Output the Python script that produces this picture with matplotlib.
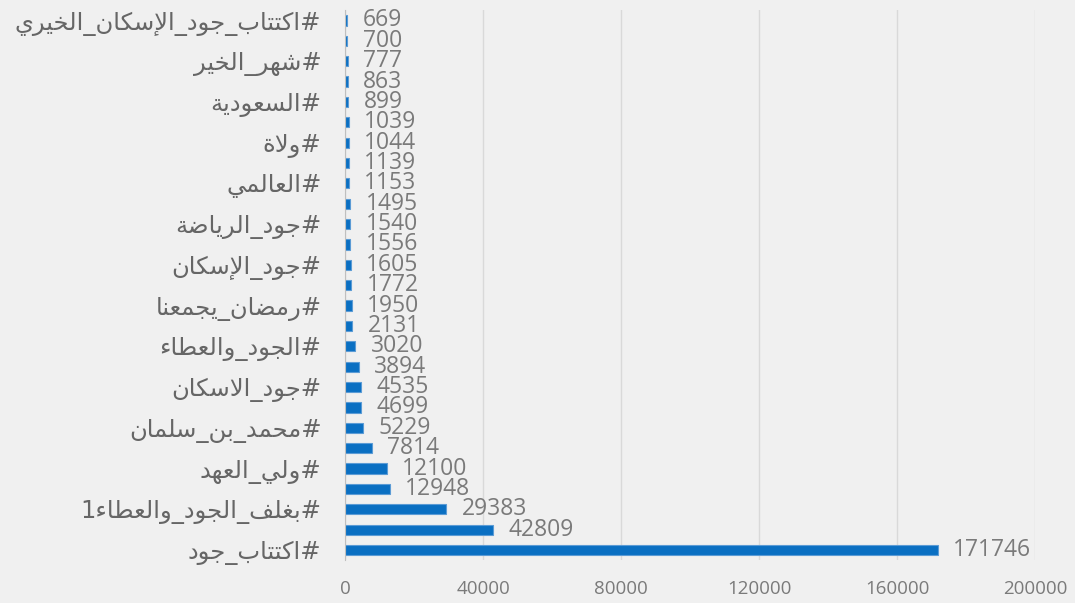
import unicodedata
import numpy as np
import matplotlib
matplotlib.use("Agg")
import matplotlib.pyplot as plt

# bottom -> top, as drawn; only every other category name is shown in the chart
tags = ["#اكتتاب_جود", "", "#بغلف_الجود_والعطاء1", "", "#ولي_العهد", "",
        "#محمد_بن_سلمان", "", "#جود_الاسكان", "", "#الجود_والعطاء", "",
        "#رمضان_يجمعنا", "", "#جود_الإسكان", "", "#جود_الرياضة", "",
        "#العالمي", "", "#ولاة", "", "#السعودية", "", "#شهر_الخير", "",
        "#اكتتاب_جود_الإسكان_الخيري"]
counts = [171746, 42809, 29383, 12948, 12100, 7814, 5229, 4699, 4535, 3894,
          3020, 2131, 1950, 1772, 1605, 1556, 1540, 1495, 1153, 1139, 1044,
          1039, 899, 863, 777, 700, 669]
xticks = [0, 40000, 80000, 120000, 160000, 200000]


# matplotlib has no arabic shaping, so pick presentation forms by hand
FORMS = {}
for cp in range(0xFE70, 0xFEFF):
    dec = unicodedata.decomposition(chr(cp))
    if not dec.startswith("<"):
        continue
    tag, *codes = dec.split()
    key = "".join(chr(int(c, 16)) for c in codes)
    FORMS.setdefault(key, {})[tag[1:-1]] = chr(cp)


def shape(text):
    units = []
    i = 0
    while i < len(text):
        if text[i] == "ل" and text[i:i + 2] in FORMS:
            units.append(text[i:i + 2])
            i += 2
        else:
            units.append(text[i])
            i += 1
    out = []
    for k, u in enumerate(units):
        f = FORMS.get(u)
        if not f or "isolated" not in f:
            out.append(u)
            continue
        prev = FORMS.get(units[k - 1], {}) if k > 0 else {}
        nxt = FORMS.get(units[k + 1], {}) if k + 1 < len(units) else {}
        jp = "initial" in prev and "final" in f
        jn = "initial" in f and "final" in nxt
        if jp and jn:
            out.append(f["medial"])
        elif jp:
            out.append(f["final"])
        elif jn:
            out.append(f["initial"])
        else:
            out.append(f["isolated"])
    return "".join(out)[::-1]


bg = "#f0f0f0"
fig = plt.figure(figsize=(10.75, 6.03), dpi=100, facecolor=bg)
ax = fig.add_axes([0.321, 0.071, 0.642, 0.912], facecolor=bg)

y = np.arange(len(counts))
ax.barh(y, counts, height=0.5, color="#0a6fc2", edgecolor="#5b9bd5",
        linewidth=0.8, zorder=3)

for yi, v in zip(y, counts):
    ax.annotate(str(v), (v, yi), xytext=(11, 0), textcoords="offset points",
                va="center", ha="left", fontsize=16.5, color="#7a7a7a",
                family="Open Sans")

ax.set_ylim(-0.5, len(counts) - 0.5)
ax.set_xlim(0, 200000)
ax.set_xticks(xticks)
ax.set_xticklabels([str(t) for t in xticks], fontsize=13.5, color="#7a7a7a",
                   family="Open Sans")
ax.set_yticks(y)
ax.set_yticklabels([shape(t) for t in tags], fontsize=17.5, color="#666666",
                   family="DejaVu Sans")
ax.tick_params(axis="both", length=0)
ax.tick_params(axis="y", pad=17)
ax.tick_params(axis="x", pad=14)

ax.grid(axis="x", color="#d9d9d9", linewidth=1, zorder=0)
for s in ["top", "right", "bottom"]:
    ax.spines[s].set_visible(False)
ax.spines["left"].set_color("#bfbfbf")
ax.spines["left"].set_zorder(4)

fig.savefig("out.png", dpi=100, facecolor=bg)
